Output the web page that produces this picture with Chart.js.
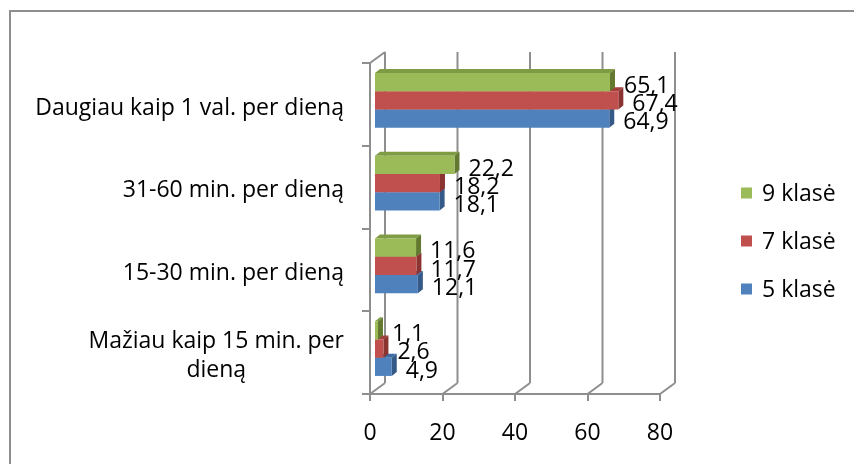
<!DOCTYPE html>
<html>
<head>
<meta charset="utf-8">
<script src="https://cdn.jsdelivr.net/npm/chart.js@4/dist/chart.umd.min.js"></script>
<style>
  html, body { margin: 0; padding: 0; background: #ffffff; }
  #wrap { position: relative; width: 854px; height: 464px; overflow: hidden; }
  #frame { position: absolute; left: 9px; top: 10px; width: 860px; height: 470px;
           border-left: 2px solid #8e8e8e; border-top: 2px solid #8e8e8e; }
  canvas { position: absolute; left: 0; top: 0; }
</style>
</head>
<body>
<div id="wrap">
  <div id="frame"></div>
  <canvas id="c" width="854" height="464"></canvas>
</div>
<script>
// ---- data ----
const categories = ['Daugiau kaip 1 val. per dieną', '31-60 min. per dieną', '15-30 min. per dieną', 'Mažiau kaip 15 min. per dieną'];
const categoryLines = [['Daugiau kaip 1 val. per dieną'], ['31-60 min. per dieną'], ['15-30 min. per dieną'], ['Mažiau kaip 15 min. per', 'dieną']];
const seriesNames = ['9 klasė', '7 klasė', '5 klasė'];
const grade9 = [65.1, 22.2, 11.6, 1.1];
const grade7 = [67.4, 18.2, 11.7, 2.6];
const grade5 = [64.9, 18.1, 12.1, 4.9];
const xTickValues = [0, 20, 40, 60, 80];

// ---- styles ----
const FONT = '"Open Sans", "DejaVu Sans", sans-serif';
const FS = 23;
const colors = ['#9BBB59', '#C0504D', '#4F81BD'];
const topColors = ['#7F9C45', '#A03F3C', '#3E6BA3'];
const sideColors = ['#62792F', '#8A3331', '#355A88'];
const GRID = '#8e8e8e';
const WALL_DX = 15, WALL_DY = 11;   // back-wall depth
const BAR_DX = 4, BAR_DY = 4;       // bar front plane offset
const BAR_D = 5, BAR_DV = 4;        // bar depth

const threeD = {
  id: 'threeD',
  beforeDatasetsDraw(chart) {
    const ctx = chart.ctx, a = chart.chartArea, xs = chart.scales.x;
    ctx.save();
    ctx.strokeStyle = GRID; ctx.lineWidth = 2;
    ctx.beginPath();
    xTickValues.forEach(v => {
      const px = xs.getPixelForValue(v);
      ctx.moveTo(px + WALL_DX, a.top - WALL_DY);
      ctx.lineTo(px + WALL_DX, a.bottom - WALL_DY);
      ctx.moveTo(px, a.bottom);
      ctx.lineTo(px + WALL_DX, a.bottom - WALL_DY);
    });
    ctx.moveTo(a.left, a.top);
    ctx.lineTo(a.left + WALL_DX, a.top - WALL_DY);
    ctx.stroke();
    ctx.restore();

    ctx.save();
    ctx.translate(BAR_DX, -BAR_DY);
    const n = chart.data.labels.length;
    const metas = chart.data.datasets.map((d, i) => chart.getDatasetMeta(i));
    for (let c = 0; c < n; c++) {
      for (let di = metas.length - 1; di >= 0; di--) {
        const el = metas[di].data[c];
        const top = el.y - el.height / 2, bot = el.y + el.height / 2;
        const L = el.base, R = el.x;
        ctx.fillStyle = topColors[di];
        ctx.beginPath();
        ctx.moveTo(L, top); ctx.lineTo(L + BAR_D, top - BAR_DV);
        ctx.lineTo(R + BAR_D, top - BAR_DV); ctx.lineTo(R, top); ctx.closePath();
        ctx.fill();
        ctx.fillStyle = sideColors[di];
        ctx.beginPath();
        ctx.moveTo(R, top); ctx.lineTo(R + BAR_D, top - BAR_DV);
        ctx.lineTo(R + BAR_D, bot - BAR_DV); ctx.lineTo(R, bot); ctx.closePath();
        ctx.fill();
      }
    }
  },
  afterDatasetsDraw(chart) {
    const ctx = chart.ctx, a = chart.chartArea, ys = chart.scales.y;
    ctx.restore();
    ctx.save();
    ctx.font = FS + 'px ' + FONT;
    ctx.fillStyle = '#000';
    // data labels
    chart.data.datasets.forEach((ds, di) => {
      const meta = chart.getDatasetMeta(di);
      meta.data.forEach((el, i) => {
        ctx.textAlign = 'left';
        ctx.textBaseline = 'alphabetic';
        const t = String(ds.data[i]).replace('.', ',');
        ctx.fillText(t, el.x + BAR_DX + 14, el.y - BAR_DY + 2.5 + 0.36 * FS);
      });
    });
    // category labels
    const rightEdge = a.left - 26;
    categoryLines.forEach((lines, i) => {
      const cy = ys.getPixelForValue(i) + 2;
      const widths = lines.map(l => ctx.measureText(l).width);
      const maxW = Math.max(...widths);
      const lh = 29;
      lines.forEach((l, k) => {
        const base = cy + 0.36 * FS + (k - (lines.length - 1) / 2) * lh;
        const cx = rightEdge - maxW / 2;
        ctx.textAlign = 'center';
        ctx.fillText(l, cx, base);
      });
    });
    // legend
    chart.data.datasets.forEach((ds, di) => {
      const y = 193 + 48 * di;
      ctx.fillStyle = ds.backgroundColor;
      ctx.fillRect(741, y - 5.5, 11, 11);
      ctx.fillStyle = '#000';
      ctx.textAlign = 'left';
      ctx.fillText(ds.label, 762, y + 0.36 * FS);
    });
    ctx.restore();
  }
};

function build() {
  new Chart(document.getElementById('c'), {
    type: 'bar',
    data: {
      labels: categories,
      datasets: [
        { label: seriesNames[0], data: grade9, backgroundColor: colors[0] },
        { label: seriesNames[1], data: grade7, backgroundColor: colors[1] },
        { label: seriesNames[2], data: grade5, backgroundColor: colors[2] }
      ]
    },
    options: {
      indexAxis: 'y',
      responsive: false,
      animation: false,
      events: [],
      layout: { padding: { top: 63, right: 194, bottom: 0, left: 0 } },
      datasets: { bar: { barPercentage: 1, categoryPercentage: 0.66, borderWidth: 0 } },
      plugins: { legend: { display: false }, tooltip: { enabled: false } },
      scales: {
        x: {
          min: 0, max: 80,
          afterBuildTicks(s) { s.ticks = xTickValues.map(v => ({ value: v })); },
          ticks: { font: { family: FONT, size: FS }, color: '#000', padding: 19, maxRotation: 0 },
          grid: { drawOnChartArea: false, tickLength: 7, color: GRID, lineWidth: 2 },
          border: { display: true, color: GRID, width: 2 },
          afterFit(s) { s.height = 70; }
        },
        y: {
          ticks: { display: false },
          grid: { offset: true, drawOnChartArea: false, tickLength: 8, color: GRID, lineWidth: 2 },
          border: { display: true, color: GRID, width: 2 },
          afterFit(s) { s.width = 370; }
        }
      }
    },
    plugins: [threeD]
  });
}
document.fonts.load(FS + 'px "Open Sans"').then(build, build);
</script>
</body>
</html>
